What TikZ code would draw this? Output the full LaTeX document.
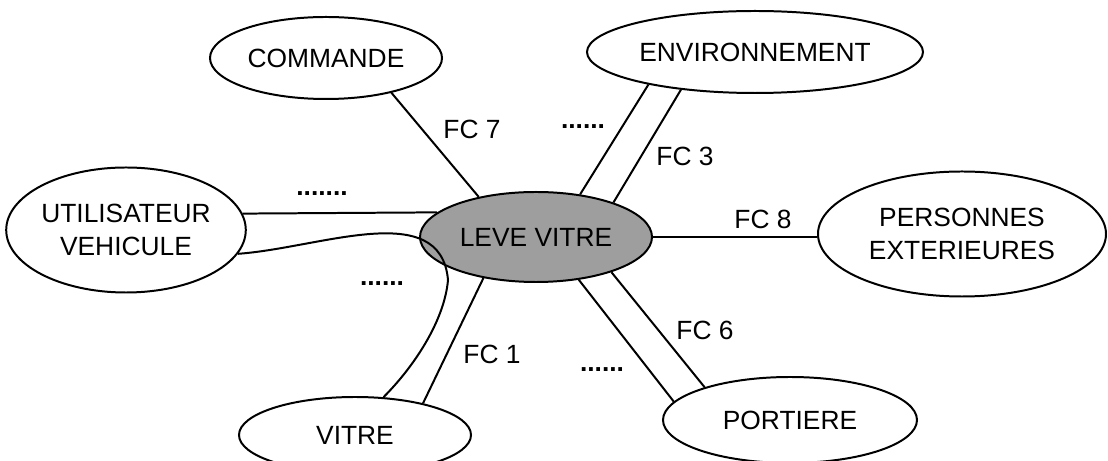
\documentclass[tikz,border=0pt]{standalone}
\usepackage{fontspec}
\setmainfont{Liberation Sans}
\usetikzlibrary{shapes.geometric}
\begin{document}
\begin{tikzpicture}[x=0.03cm,y=-0.03cm,
  ell/.style={ellipse,draw,line width=1.7pt,inner sep=0pt,align=center,
     font=\fontsize{22.5}{27.5}\selectfont},
  conn/.style={line width=1.7pt},
  lbl/.style={font=\fontsize{22.5}{26}\selectfont,inner sep=0pt},
  dots/.style={font=\fontsize{22.5}{26}\selectfont\bfseries,inner sep=0pt}]
\useasboundingbox (0,0) rectangle (1108,461);
% nodes
\node[ell,fill=black!38,minimum width=6.96cm,minimum height=2.7cm] (leve) at (536,237) {LEVE VITRE};
\node[ell,minimum width=6.96cm,minimum height=2.46cm] (cmd) at (326,58) {COMMANDE};
\node[ell,minimum width=7.08cm,minimum height=3.75cm] (util) at (126,230) {UTILISATEUR\\VEHICULE};
\node[ell,minimum width=6.96cm,minimum height=2.28cm] (vitre) at (355,435) {VITRE};
\node[ell,minimum width=10.08cm,minimum height=2.46cm] (env) at (755,52) {ENVIRONNEMENT};
\node[ell,minimum width=8.64cm,minimum height=3.75cm] (pers) at (962,234) {PERSONNES\\EXTERIEURES};
\node[ell,minimum width=7.62cm,minimum height=2.58cm] (port) at (790,420) {PORTIERE};
% connectors
\draw[conn] (cmd.-28) -- (leve.145);
\draw[conn] (env.197) -- (leve.44);
\draw[conn] (env.207) -- (leve.24);
\draw[conn] (leve.east) -- (leve.east -| pers.west);
\draw[conn] (util.8.5) -- (leve.166.4);
\coordinate (bend) at (448,280);
\draw[conn] (util.-12) to[out=4,in=95] (bend) to[out=-95,in=45,looseness=0.8] (vitre.53);
\draw[conn] (leve.218) -- (vitre.25);
\draw[conn] (leve.-45) -- (port.171);
\draw[conn] (leve.-25) -- (port.159);
% labels
\node[lbl] (fc7) at (472,129) {FC 7};
\node[lbl] (fc3) at (685,156) {FC 3};
\node[lbl] (fc8) at (763,219) {FC 8};
\node[lbl] (fc1) at (492,354) {FC 1};
\node[lbl] (fc6) at (705,330) {FC 6};
\node[dots] (d1) at (322,194) {.......};
\node[dots] (d2) at (583,127) {......};
\node[dots] (d3) at (382,284) {......};
\node[dots] (d4) at (602,370) {......};
\end{tikzpicture}
\end{document}
